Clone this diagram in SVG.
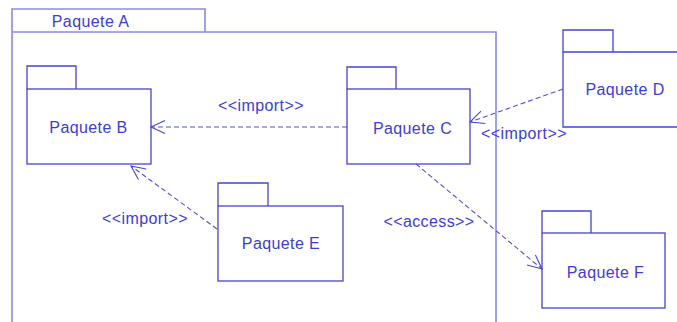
<svg xmlns="http://www.w3.org/2000/svg" width="677" height="322" viewBox="0 0 677 322">
  <style>
    .pkg { fill: none; stroke: #4646d2; stroke-width: 1.3; }
    .outer { fill: none; stroke: #8a8ae6; stroke-width: 1.6; }
    .lbl { font-family: "Liberation Sans", Arial, sans-serif; font-size: 16px; letter-spacing: 0.4px; fill: #3d3dd6; text-anchor: middle; }
    .dep { fill: none; stroke: #5050d4; stroke-width: 1.1; stroke-dasharray: 5 3; }
  </style>
  <defs>
    <marker id="open" markerUnits="userSpaceOnUse" markerWidth="20" markerHeight="20" viewBox="-16 -10 20 20" refX="0" refY="0" orient="auto">
      <path d="M-14,-6.5 L0,0 L-14,6.5" fill="none" stroke="#4646d2" stroke-width="1.1"/>
    </marker>
  </defs>
  <rect width="677" height="322" fill="#ffffff"/>

  <g id="paquete-a">
    <path class="outer" d="M12,322 V9 H205 V32 M12,32 H496 V322"/>
    <text class="lbl" x="90.5" y="27">Paquete A</text>
  </g>

  <g id="paquete-b">
    <path class="pkg" d="M27,89 V66 H76 V89"/>
    <rect class="pkg" x="27" y="89" width="124" height="75"/>
    <text class="lbl" x="88.5" y="133">Paquete B</text>
  </g>

  <g id="paquete-c">
    <path class="pkg" d="M347,89 V67 H396 V89"/>
    <rect class="pkg" x="347" y="89" width="123" height="75"/>
    <text class="lbl" x="412.5" y="134">Paquete C</text>
  </g>

  <g id="paquete-d">
    <path class="pkg" d="M563,52 V30 H613 V52"/>
    <path class="pkg" d="M678,52 H563 V127 H678"/>
    <text class="lbl" x="625" y="95">Paquete D</text>
  </g>

  <g id="paquete-e">
    <path class="pkg" d="M218,206 V183 H268 V206"/>
    <rect class="pkg" x="218" y="206" width="125" height="75"/>
    <text class="lbl" x="281" y="248.5">Paquete E</text>
  </g>

  <g id="paquete-f">
    <path class="pkg" d="M542,233 V211 H591 V233"/>
    <rect class="pkg" x="542" y="233" width="123" height="75"/>
    <text class="lbl" x="605.5" y="277.5">Paquete F</text>
  </g>

  <g id="connectors">
    <line class="dep" x1="347" y1="127" x2="151" y2="127" marker-end="url(#open)"/>
    <text class="lbl" x="261" y="110.5">&lt;&lt;import&gt;&gt;</text>

    <line class="dep" x1="563" y1="89" x2="470" y2="122" marker-end="url(#open)"/>
    <text class="lbl" x="524" y="139">&lt;&lt;import&gt;&gt;</text>

    <line class="dep" x1="217" y1="229" x2="131" y2="166" marker-end="url(#open)"/>
    <text class="lbl" x="145" y="224">&lt;&lt;import&gt;&gt;</text>

    <line class="dep" x1="416" y1="164" x2="542" y2="269" marker-end="url(#open)"/>
    <text class="lbl" x="429" y="227">&lt;&lt;access&gt;&gt;</text>
  </g>
</svg>
